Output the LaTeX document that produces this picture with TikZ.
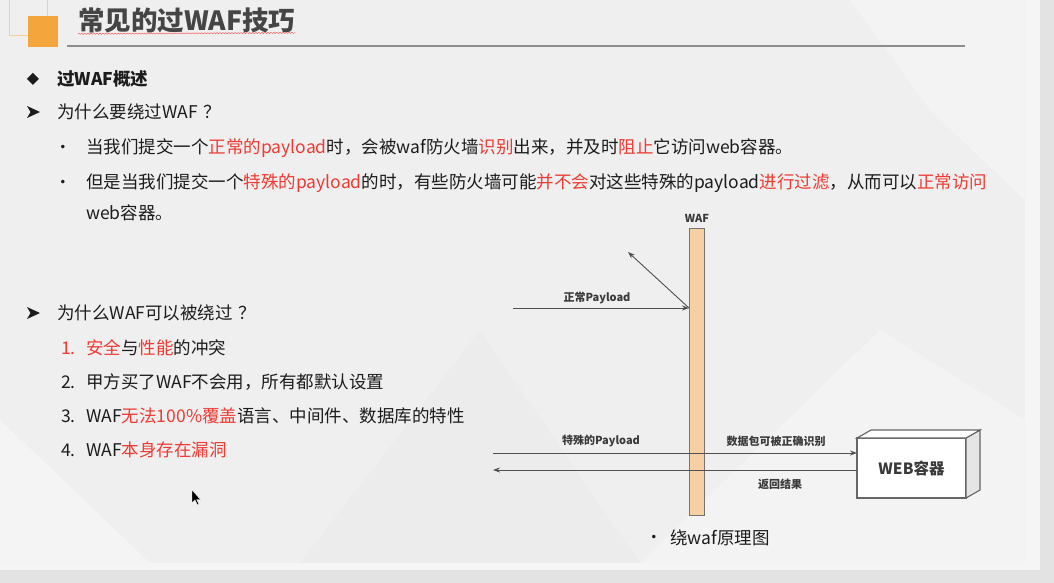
\documentclass[tikz,border=0pt]{standalone}
\usepackage{fontspec}
\setmainfont{Noto Sans CJK SC}
\newfontfamily\djv{DejaVu Sans}
\usetikzlibrary{arrows.meta,decorations.pathmorphing}
\definecolor{slidebg}{HTML}{EFEFF0}
\definecolor{outerbg}{HTML}{E3E3E4}
\definecolor{orng}{HTML}{F4A63C}
\definecolor{redt}{HTML}{EE3B33}
\definecolor{txt}{HTML}{1C1C1C}
\definecolor{titlec}{HTML}{454545}
\definecolor{barfill}{HTML}{F6CFA2}
\definecolor{linec}{HTML}{505050}
\definecolor{lblc}{HTML}{3A3A3A}
\newcommand{\redtxt}[1]{\textcolor{redt}{#1}}
\begin{document}
\begin{tikzpicture}[x=1pt,y=-1pt,
  body/.style={anchor=west, inner sep=0pt, font=\fontsize{17.5}{19}\selectfont, text=txt},
  marker/.style={anchor=center, inner sep=0pt, text=txt},
  lbl/.style={inner sep=0pt, font=\fontsize{11}{12}\selectfont\bfseries, text=lblc},
  conn/.style={draw=linec, line width=0.9pt, -{Stealth[length=7pt,width=5pt]}},
  arrowmark/.style={fill=txt},
  squig/.style={draw=red!70, line width=0.4pt, decorate, decoration={snake, amplitude=0.6pt, segment length=3pt}}]
\useasboundingbox (0,0) rectangle (1054,583);
% backgrounds
\fill[outerbg] (0,0) rectangle (1054,583);
\fill[black!4] (1025,0) rectangle (1040,568);
\fill[black!4] (0,563) rectangle (1040,570);
\fill[slidebg] (0,0) rectangle (1025,563);
\fill[white,opacity=0.35] (0,420) -- (150,563) -- (0,563) -- cycle;
\fill[white,opacity=0.3] (640,563) -- (880,330) -- (1025,420) -- (1025,563) -- cycle;
\fill[white,opacity=0.25] (850,0) -- (1025,0) -- (1025,200) -- (930,110) -- cycle;
\fill[black,opacity=0.01] (300,563) -- (480,330) -- (640,563) -- cycle;
% header decoration
\draw[orng!55, line width=1pt] (9,-2) rectangle (47,36);
\fill[orng] (28,16) rectangle (58,47);
\node[anchor=west, inner sep=0pt, font=\fontsize{26.5}{28}\selectfont\bfseries, text=titlec] (title) at (78,20) {常见的过WAF技巧};
\draw[squig] (title.south west) ++(0,1) -- (title.south east);
\draw[black!45, line width=1.2pt] (67,46) -- (965,46);
% section 1
\node[marker, font=\djv\fontsize{16}{17}\selectfont] (m1) at (33,79) {◆};
\node[body, font=\fontsize{17.5}{19}\selectfont\bfseries] (s1) at (57,79) {过WAF概述};
\coordinate (m2) at (33,112);
\fill[arrowmark] (m2) ++(-6,-6) -- ++(13,6) -- ++(-13,6) -- ++(3.5,-6) -- cycle;
\node[body] (q1) at (57,112) {为什么要绕过WAF\hspace{0.3em}？};
\node[marker, font=\djv\fontsize{12}{13}\selectfont] (b1) at (63,148) {•};
\node[body] (l1) at (86,148) {当我们提交一个\redtxt{正常的payload}时，会被waf防火墙\redtxt{识别}出来，并及时\redtxt{阻止}它访问web容器。};
\node[marker, font=\djv\fontsize{12}{13}\selectfont] (b2) at (63,183) {•};
\node[body] (l2) at (86,183) {但是当我们提交一个\redtxt{特殊的payload}的时，有些防火墙可能\redtxt{并不会}对这些特殊的payload\redtxt{进行过滤}，从而可以\redtxt{正常访问}};
\node[body] (l3) at (86,213) {web容器。};
% section 2
\coordinate (m3) at (33,313);
\fill[arrowmark] (m3) ++(-6,-6) -- ++(13,6) -- ++(-13,6) -- ++(3.5,-6) -- cycle;
\node[body] (q2) at (57,313) {为什么WAF可以被绕过\hspace{0.3em}？};
\node[body] (n1) at (61,348) {\redtxt{1.}};
\node[body] (i1) at (86,348) {\redtxt{安全}与\redtxt{性能}的冲突};
\node[body] (n2) at (61,382) {2.};
\node[body] (i2) at (86,382) {甲方买了WAF不会用，所有都默认设置};
\node[body] (n3) at (61,416) {3.};
\node[body] (i3) at (86,416) {WAF\redtxt{无法100\%覆盖}语言、中间件、数据库的特性};
\node[body] (n4) at (61,450) {4.};
\node[body] (i4) at (86,450) {WAF\redtxt{本身存在漏洞}};
% cursor
\filldraw[fill=black, draw=white, line width=0.4pt] (192,490) -- (192,503) -- (195,500) -- (197.5,505) -- (199,504.3) -- (196.6,499.5) -- (200.5,499.5) -- cycle;
% diagram
\node[draw=black!55, fill=barfill, line width=0.8pt, minimum width=15pt, minimum height=287pt, inner sep=0pt, outer sep=0pt] (waf) at (696.5,371.5) {};
\node[lbl] (waflbl) at (697,218) {WAF};
\node[draw=black!60, fill=white, line width=1.1pt, minimum width=109pt, minimum height=60pt, inner sep=0pt, outer sep=0pt, font=\fontsize{15.5}{17}\selectfont\bfseries, text=lblc] (web) at (911.5,468) {WEB容器};
\filldraw[draw=black!60, fill=black!10, line width=1.1pt] (web.north east) -- ++(14,-8) -- ++(0,60) -- (web.south east) -- cycle;
\filldraw[draw=black!60, fill=white, line width=1.1pt] (web.north west) -- ++(14,-8) -- ++(109,0) -- (web.north east) -- cycle;
% normal payload
\coordinate (np) at (513,308);
\coordinate (refl) at (628,252);
\coordinate (hit) at (waf.west |- np);
\draw[conn] (np) -- (hit);
\draw[conn] (hit) -- (refl);
\node[lbl] (nplbl) at (597,298) {正常Payload};
% special payload
\coordinate (sp) at (493,453);
\coordinate (ret) at (493,470);
\draw[conn] (sp) -- (sp -| web.west);
\draw[conn] (web.west |- ret) -- (ret);
\node[lbl] (splbl) at (601,441) {特殊的Payload};
\node[lbl] (oklbl) at (776,441) {数据包可被正确识别};
\node[lbl] (retlbl) at (780,484) {返回结果};
% caption
\node[marker, font=\djv\fontsize{12}{13}\selectfont] (b3) at (654,538) {•};
\node[body] (cap) at (670,538) {绕waf原理图};
\end{tikzpicture}
\end{document}
